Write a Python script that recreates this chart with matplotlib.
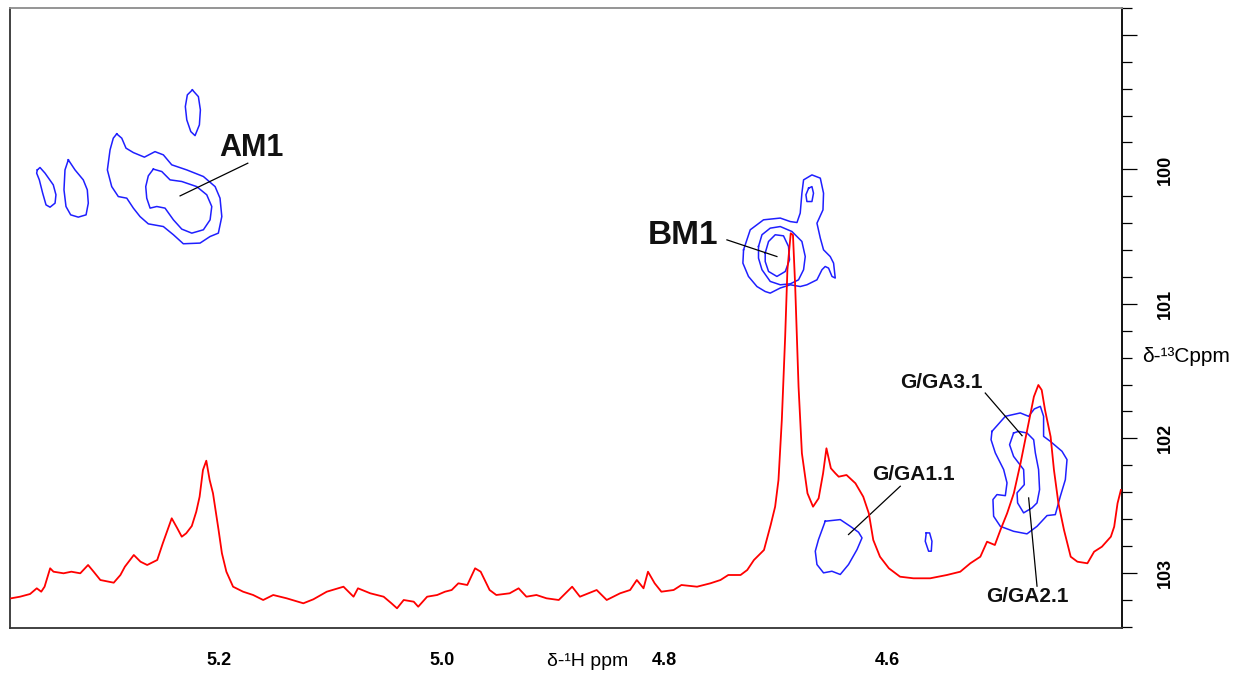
import matplotlib
matplotlib.use("Agg")
import matplotlib.pyplot as plt
from matplotlib import font_manager
from matplotlib.ticker import FixedLocator, MultipleLocator, FuncFormatter

installed = {f.name for f in font_manager.fontManager.ttflist}
narrow = "Liberation Sans Narrow" if "Liberation Sans Narrow" in installed else "Liberation Sans"
plt.rcParams["font.family"] = ["Liberation Sans", "DejaVu Sans"]

# 1H projection (ppm, intensity a.u.)
h_ppm = [5.386, 5.378, 5.369, 5.363, 5.359, 5.356, 5.351, 5.348, 5.339, 5.332,
         5.324, 5.317, 5.312, 5.306, 5.294, 5.288, 5.284, 5.276, 5.270, 5.264,
         5.255, 5.250, 5.242, 5.237, 5.233, 5.229, 5.224, 5.220, 5.217, 5.214,
         5.211, 5.208, 5.205, 5.200, 5.197, 5.193, 5.187, 5.178, 5.169, 5.160,
         5.151, 5.139, 5.124, 5.115, 5.103, 5.088, 5.079, 5.075, 5.064, 5.052,
         5.045, 5.040, 5.034, 5.025, 5.021, 5.013, 5.004, 4.997, 4.991, 4.985,
         4.977, 4.970, 4.965, 4.957, 4.951, 4.939, 4.931, 4.924, 4.915, 4.906,
         4.895, 4.883, 4.876, 4.861, 4.852, 4.840, 4.831, 4.825, 4.819, 4.815,
         4.809, 4.803, 4.792, 4.785, 4.771, 4.759, 4.750, 4.743, 4.732, 4.726,
         4.720, 4.714, 4.711, 4.705, 4.701, 4.698, 4.695, 4.692, 4.690, 4.687,
         4.685, 4.683, 4.680, 4.677, 4.672, 4.667, 4.662, 4.658, 4.655, 4.651,
         4.647, 4.644, 4.637, 4.629, 4.622, 4.617, 4.613, 4.607, 4.599, 4.589,
         4.577, 4.562, 4.547, 4.535, 4.526, 4.517, 4.511, 4.504, 4.499, 4.493,
         4.487, 4.481, 4.475, 4.469, 4.465, 4.462, 4.459, 4.454, 4.451, 4.447,
         4.442, 4.436, 4.430, 4.421, 4.415, 4.408, 4.400, 4.397, 4.394, 4.391]
h_int = [1.7, 3.3, 6.0, 11.7, 8.3, 13.3, 31.7, 28.3, 26.7, 28.3,
         26.7, 35.0, 28.3, 20.0, 17.3, 25.0, 33.3, 45.0, 38.3, 35.0,
         40.0, 56.7, 81.7, 71.7, 63.3, 66.7, 74.0, 88.3, 103.3, 130.0,
         139.3, 120.0, 106.7, 70.0, 46.7, 28.3, 13.3, 8.3, 5.0, 0.0,
         5.0, 1.7, -3.3, 0.7, 8.3, 13.3, 3.3, 11.7, 6.7, 3.3,
         -3.3, -8.3, 0.0, -1.7, -6.7, 3.3, 5.0, 8.3, 10.0, 16.7,
         15.0, 31.7, 28.3, 10.0, 5.0, 6.7, 11.7, 3.3, 5.0, 1.7,
         0.0, 13.3, 3.3, 10.0, 0.0, 6.7, 10.0, 20.0, 11.7, 28.3,
         16.7, 8.3, 10.0, 15.0, 13.3, 16.7, 20.0, 25.0, 25.0, 30.0,
         40.0, 46.7, 50.0, 75.0, 93.3, 120.0, 180.0, 263.3, 330.0, 366.7,
         365.0, 313.3, 213.3, 146.7, 106.7, 93.3, 101.7, 126.7, 151.7, 131.7,
         126.7, 123.3, 125.0, 116.7, 103.3, 86.7, 60.0, 43.3, 31.7, 23.3,
         21.7, 21.7, 25.0, 28.3, 36.7, 43.3, 58.3, 55.0, 70.0, 86.7,
         106.7, 136.7, 170.0, 203.3, 215.0, 210.0, 190.0, 163.3, 130.0, 96.7,
         70.0, 43.3, 38.3, 36.7, 48.3, 53.3, 63.3, 73.3, 96.7, 110.0]

# HSQC cross-peak contours (1H ppm, 13C ppm), closed outlines
am1_top_h = [5.2235, 5.2181, 5.2163, 5.2172, 5.2211, 5.2249, 5.2285, 5.2298, 5.2280]
am1_top_c = [99.409, 99.459, 99.558, 99.669, 99.749, 99.719, 99.632, 99.533, 99.446]
am1_far_h = [5.3625, 5.3601, 5.3556, 5.3482, 5.3458, 5.3466, 5.3511, 5.3547, 5.3577, 5.3607, 5.3631]
am1_far_c = [100.004, 99.986, 100.028, 100.115, 100.189, 100.251, 100.281, 100.264, 100.177, 100.078, 100.028]
am1_side_h = [5.3347, 5.3287, 5.3213, 5.3177, 5.3168, 5.3188, 5.3258, 5.3326, 5.3368, 5.3386, 5.3377]
am1_side_c = [99.929, 100.004, 100.078, 100.152, 100.251, 100.338, 100.355, 100.338, 100.276, 100.152, 100.004]
am1_out_h = [5.2913, 5.2868, 5.2830, 5.2764, 5.2665, 5.2570, 5.2495, 5.2420, 5.2285, 5.2136,
             5.2031, 5.1987, 5.1971, 5.2002, 5.2076, 5.2166, 5.2316, 5.2405, 5.2495, 5.2630,
             5.2704, 5.2764, 5.2823, 5.2899, 5.2958, 5.2997, 5.2973, 5.2944]
am1_out_c = [99.736, 99.768, 99.842, 99.875, 99.909, 99.868, 99.892, 99.966, 100.004, 100.053,
             100.128, 100.214, 100.351, 100.474, 100.499, 100.548, 100.553, 100.486, 100.425, 100.405,
             100.351, 100.288, 100.214, 100.202, 100.128, 100.004, 99.855, 99.768]
am1_in_h = [5.2585, 5.2509, 5.2435, 5.2330, 5.2196, 5.2106, 5.2061, 5.2076, 5.2136,
            5.2240, 5.2330, 5.2405, 5.2480, 5.2554, 5.2614, 5.2644, 5.2653, 5.2630]
am1_in_c = [99.998, 100.016, 100.078, 100.090, 100.128, 100.189, 100.276, 100.375, 100.449,
            100.474, 100.444, 100.375, 100.288, 100.276, 100.288, 100.214, 100.128, 100.048]

bm1_out_h = [4.7293, 4.7233, 4.7114, 4.6964, 4.6874, 4.6814, 4.6785, 4.6770, 4.6755, 4.6680,
             4.6605, 4.6576, 4.6581, 4.6635, 4.6605, 4.6576, 4.6516, 4.6486, 4.6471, 4.6500,
             4.6531, 4.6561, 4.6590, 4.6635, 4.6725, 4.6785, 4.6874, 4.6964, 4.7054, 4.7099,
             4.7173, 4.7249, 4.7299]
bm1_out_c = [100.598, 100.449, 100.375, 100.362, 100.388, 100.395, 100.325, 100.177, 100.078, 100.041,
             100.065, 100.177, 100.301, 100.400, 100.511, 100.598, 100.648, 100.697, 100.808, 100.796,
             100.734, 100.722, 100.746, 100.821, 100.858, 100.871, 100.858, 100.882, 100.920, 100.908,
             100.871, 100.796, 100.697]
bm1_loop_h = [4.6710, 4.6680, 4.6666, 4.6680, 4.6725, 4.6734]
bm1_loop_c = [100.140, 100.128, 100.177, 100.239, 100.239, 100.189]
bm1_mid_h = [4.7159, 4.7128, 4.7054, 4.6964, 4.6859, 4.6770, 4.6740, 4.6755, 4.6800,
             4.6874, 4.6964, 4.7054, 4.7128, 4.7159]
bm1_mid_c = [100.573, 100.486, 100.437, 100.425, 100.462, 100.536, 100.648, 100.746, 100.821,
             100.851, 100.858, 100.833, 100.746, 100.660]
bm1_in_h = [4.7099, 4.7069, 4.7009, 4.6935, 4.6890, 4.6881, 4.6919, 4.6994, 4.7069, 4.7099]
bm1_in_c = [100.622, 100.536, 100.486, 100.494, 100.573, 100.672, 100.759, 100.796, 100.759, 100.685]

ga1_h = [4.6561, 4.6426, 4.6336, 4.6262, 4.6231, 4.6276, 4.6352, 4.6426, 4.6501, 4.6576,
         4.6635, 4.6650, 4.6621]
ga1_c = [102.616, 102.604, 102.654, 102.698, 102.740, 102.827, 102.938, 103.012, 102.988, 103.000,
         102.938, 102.839, 102.752]
dot_h = [4.5655, 4.5625, 4.5604, 4.5610, 4.5634, 4.5664]
dot_c = [102.703, 102.703, 102.765, 102.839, 102.839, 102.765]
ga_out_h = [4.5066, 4.4946, 4.4812, 4.4737, 4.4686, 4.4632, 4.4603, 4.4603, 4.4543, 4.4438,
            4.4393, 4.4408, 4.4453, 4.4498, 4.4572, 4.4662, 4.4752, 4.4872, 4.4991, 4.5051,
            4.5057, 4.5021, 4.4946, 4.4931, 4.4961, 4.5036, 4.5074]
ga_out_c = [101.948, 101.836, 101.811, 101.836, 101.781, 101.762, 101.836, 101.985, 102.022, 102.096,
            102.158, 102.307, 102.431, 102.567, 102.574, 102.654, 102.710, 102.691, 102.654, 102.579,
            102.455, 102.418, 102.426, 102.331, 102.232, 102.108, 102.010]
ga_in_h = [4.4872, 4.4827, 4.4752, 4.4692, 4.4677, 4.4648, 4.4639, 4.4662, 4.4707, 4.4782,
           4.4836, 4.4841, 4.4776, 4.4782, 4.4872, 4.4908]
ga_in_c = [101.960, 101.948, 101.960, 102.010, 102.108, 102.232, 102.381, 102.480, 102.517, 102.554,
           102.480, 102.405, 102.344, 102.232, 102.134, 102.047]

contours = [(am1_top_h, am1_top_c), (am1_far_h, am1_far_c), (am1_side_h, am1_side_c),
            (am1_out_h, am1_out_c), (am1_in_h, am1_in_c),
            (bm1_out_h, bm1_out_c), (bm1_loop_h, bm1_loop_c), (bm1_mid_h, bm1_mid_c),
            (bm1_in_h, bm1_in_c), (ga1_h, ga1_c), (dot_h, dot_c),
            (ga_out_h, ga_out_c), (ga_in_h, ga_in_c)]

# peak labels: text, label position, leader start, leader end (1H, 13C)
labels = ["AM1", "BM1", "G/GA1.1", "G/GA3.1", "G/GA2.1"]
label_xy = [(5.1702, 99.842), (4.7839, 100.494), (4.5769, 102.269), (4.5520, 101.586), (4.4749, 103.176)]
leader_from = [(5.1738, 99.954), (4.7442, 100.524), (4.5888, 102.356), (4.5126, 101.663), (4.4662, 103.099)]
leader_to = [(5.2345, 100.197), (4.6994, 100.648), (4.6352, 102.715), (4.4796, 101.980), (4.4737, 102.443)]
label_size = [22, 24, 15, 15, 15]

# axis ticks
h_ticks = [5.2, 5.0, 4.8, 4.6]
c_major = [99, 100, 101, 102, 103]
c_labelled = [100, 101, 102, 103]

fig = plt.figure(figsize=(12.34, 6.74), dpi=100)
ax = fig.add_axes([10 / 1234, 1 - 628 / 674, 1112 / 1234, 620 / 674])

for hx, cy in contours:
    ax.plot(list(hx) + [hx[0]], list(cy) + [cy[0]], color="#1f1fff", lw=1.1)

for text, xy, p0, p1, fs in zip(labels, label_xy, leader_from, leader_to, label_size):
    ax.plot([p0[0], p1[0]], [p0[1], p1[1]], color="black", lw=0.9)
    fam = [narrow, "DejaVu Sans"] if text == "BM1" else ["Liberation Sans", "DejaVu Sans"]
    ax.text(xy[0], xy[1], text, fontsize=fs, fontweight="bold", family=fam,
            ha="center", va="center", color="#111111")

ax.set_xlim(5.387, 4.39)
ax.set_ylim(103.41, 98.80)

ax.xaxis.set_major_locator(FixedLocator(h_ticks))
ax.xaxis.set_major_formatter(FuncFormatter(lambda v, p: f"{v:.1f}"))
ax.tick_params(axis="x", length=0, pad=17, labelsize=13)
for lab in ax.get_xticklabels():
    lab.set_fontweight("bold")
    lab.set_family([narrow, "DejaVu Sans"])

ax.yaxis.tick_right()
ax.yaxis.set_major_locator(FixedLocator(c_major))
ax.yaxis.set_minor_locator(MultipleLocator(0.2))
ax.yaxis.set_major_formatter(
    FuncFormatter(lambda v, p: f"{v:.0f}" if round(v) in c_labelled else ""))
ax.tick_params(axis="y", which="major", length=11, width=0.9, pad=14, labelsize=13,
               labelrotation=90)
ax.tick_params(axis="y", which="minor", length=7, width=0.9)
for lab in ax.get_yticklabels():
    lab.set_fontweight("bold")
    lab.set_family([narrow, "DejaVu Sans"])
    lab.set_verticalalignment("center")

ax.spines["top"].set_color("#8c8c8c")
ax.spines["left"].set_color("#333333")
ax.spines["bottom"].set_color("#333333")
ax.spines["right"].set_color("black")
for s in ax.spines.values():
    s.set_linewidth(1.3)

# 1H projection on its own intensity scale
ax2 = fig.add_axes(ax.get_position(), sharex=ax)
ax2.patch.set_alpha(0)
ax2.plot(h_ppm, h_int, color="#ff0000", lw=1.3)
ax2.set_ylim(-28, 592)
ax2.axis("off")

fig.text(588 / 1234, 1 - 662 / 674, "δ-¹H ppm", fontsize=14, ha="center", va="center")
fig.text(1142 / 1234, 1 - 356 / 674, "δ-¹³Cppm", fontsize=15, ha="left", va="center")

fig.savefig("out.png", dpi=100)
